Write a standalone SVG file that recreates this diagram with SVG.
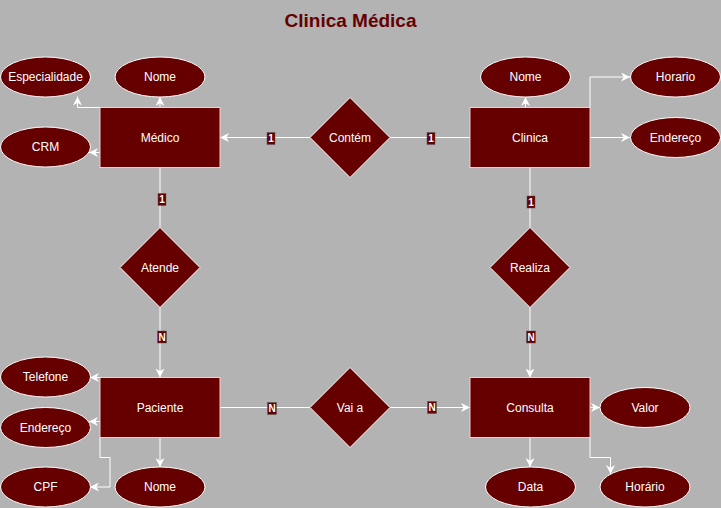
<svg xmlns="http://www.w3.org/2000/svg" width="721" height="508" viewBox="0 0 721 508">
<defs>
<marker id="arr" viewBox="0 0 10 10" refX="10" refY="5" markerWidth="9" markerHeight="9" markerUnits="userSpaceOnUse" orient="auto">
<path d="M0,0 L10,5 L0,10 L3,5 z" fill="#FFFFFF"/>
</marker>
</defs>
<style>
.ent{fill:#660000;stroke:#F8CECC;stroke-width:1}
.att{fill:#660000;stroke:#FFFFFF;stroke-width:1}
.rel{fill:#660000;stroke:#FFFFFF;stroke-width:1}
.t{font-family:"Liberation Sans",Arial,sans-serif;font-size:12px;fill:#FFFFFF;text-anchor:middle;dominant-baseline:central}
.e{fill:none;stroke:#FFFFFF;stroke-width:1}
.ea{fill:none;stroke:#FFFFFF;stroke-width:1;marker-end:url(#arr)}
.lb{fill:#660000;stroke:#555555;stroke-width:0.5}
.lt{font-family:"Liberation Sans",Arial,sans-serif;font-size:10px;font-weight:bold;fill:#FFFFFF;text-anchor:middle;dominant-baseline:central}
</style>
<rect x="0" y="0" width="721" height="508" fill="#B3B3B3"/>
<text x="350.5" y="20" font-family="'Liberation Sans',Arial,sans-serif" font-size="19" font-weight="bold" fill="#660000" text-anchor="middle" dominant-baseline="central">Clinica Médica</text>

<g id="connectors">
<path class="ea" d="M310,137.5 L220,137.5"/>
<path class="e" d="M390,137.5 L470,137.5"/>
<path class="e" d="M160,167.5 L160,227.5"/>
<path class="ea" d="M160,307.5 L160,377.5"/>
<path class="e" d="M530,167.5 L530,227.5"/>
<path class="ea" d="M530,307.5 L530,377.5"/>
<path class="e" d="M220,407.5 L310,407.5"/>
<path class="ea" d="M390,407.5 L470,407.5"/>
<path class="ea" d="M100,107.5 L77.5,107.5 L77.5,96.5"/>
<path class="ea" d="M160,107.5 L160,97"/>
<path class="ea" d="M100,152.5 L89,152.5"/>
<path class="ea" d="M525.5,107.5 L525.5,97"/>
<path class="ea" d="M590,107.5 L590,77 L630,77"/>
<path class="ea" d="M590,137.5 L630,137.5"/>
<path class="ea" d="M100,377.5 L90,377.5"/>
<path class="ea" d="M100,421.5 L89,421.5"/>
<path class="ea" d="M100,437.5 L100,457.5 L110,457.5 L110,487 L90,487"/>
<path class="ea" d="M160,437.5 L160,467"/>
<path class="ea" d="M590,407.5 L600,407.5"/>
<path class="ea" d="M530,437.5 L530,467"/>
<path class="ea" d="M590,437.5 L590,457.5 L610.5,457.5 L610.5,474"/>
<g id="labels">
<rect class="lb" x="267" y="132.5" width="8" height="12"/><text class="lt" x="271" y="138.5">1</text>
<rect class="lb" x="427" y="132.5" width="8" height="12"/><text class="lt" x="431" y="138.5">1</text>
<rect class="lb" x="158" y="193.5" width="8" height="12"/><text class="lt" x="162" y="199.5">1</text>
<rect class="lb" x="157.5" y="331" width="9" height="12"/><text class="lt" x="162" y="337">N</text>
<rect class="lb" x="527" y="196" width="8" height="12"/><text class="lt" x="531" y="202">1</text>
<rect class="lb" x="526.5" y="331" width="9" height="12"/><text class="lt" x="531" y="337">N</text>
<rect class="lb" x="267.5" y="402.5" width="9" height="12"/><text class="lt" x="272" y="408.5">N</text>
<rect class="lb" x="427.5" y="401.5" width="9" height="12"/><text class="lt" x="432" y="407.5">N</text>
</g>
</g>

<g id="medico"><rect class="ent" x="100" y="107.5" width="120" height="60"/><text class="t" x="160" y="137.5">Médico</text></g>
<g id="clinica"><rect class="ent" x="470" y="107.5" width="120" height="60"/><text class="t" x="530" y="137.5">Clinica</text></g>
<g id="paciente"><rect class="ent" x="100" y="377.5" width="120" height="60"/><text class="t" x="160" y="407.5">Paciente</text></g>
<g id="consulta"><rect class="ent" x="470" y="377.5" width="120" height="60"/><text class="t" x="530" y="407.5">Consulta</text></g>

<g id="contem"><path class="rel" d="M350,97.5 L390,137.5 L350,177.5 L310,137.5 Z"/><text class="t" x="350" y="137.5">Contém</text></g>
<g id="atende"><path class="rel" d="M160,227.5 L200,267.5 L160,307.5 L120,267.5 Z"/><text class="t" x="160" y="267.5">Atende</text></g>
<g id="realiza"><path class="rel" d="M530,227.5 L570,267.5 L530,307.5 L490,267.5 Z"/><text class="t" x="530" y="267.5">Realiza</text></g>
<g id="vaia"><path class="rel" d="M350,367.5 L390,407.5 L350,447.5 L310,407.5 Z"/><text class="t" x="350" y="407.5">Vai a</text></g>

<g id="especialidade"><ellipse class="att" cx="45.5" cy="77" rx="45" ry="20"/><text class="t" x="45.5" y="77">Especialidade</text></g>
<g id="nome-medico"><ellipse class="att" cx="160" cy="77" rx="45" ry="20"/><text class="t" x="160" y="77">Nome</text></g>
<g id="crm"><ellipse class="att" cx="45.5" cy="147" rx="45" ry="20"/><text class="t" x="45.5" y="147">CRM</text></g>
<g id="nome-clinica"><ellipse class="att" cx="525.5" cy="77" rx="45" ry="20"/><text class="t" x="525.5" y="77">Nome</text></g>
<g id="horario-clinica"><ellipse class="att" cx="675.5" cy="77" rx="45" ry="20"/><text class="t" x="675.5" y="77">Horario</text></g>
<g id="endereco-clinica"><ellipse class="att" cx="675.5" cy="137.5" rx="45" ry="20"/><text class="t" x="675.5" y="137.5">Endereço</text></g>
<g id="telefone"><ellipse class="att" cx="45.5" cy="377" rx="45" ry="20"/><text class="t" x="45.5" y="377">Telefone</text></g>
<g id="endereco-paciente"><ellipse class="att" cx="45.5" cy="427.5" rx="45" ry="20"/><text class="t" x="45.5" y="427.5">Endereço</text></g>
<g id="cpf"><ellipse class="att" cx="45.5" cy="487" rx="45" ry="20"/><text class="t" x="45.5" y="487">CPF</text></g>
<g id="nome-paciente"><ellipse class="att" cx="160" cy="487" rx="45" ry="20"/><text class="t" x="160" y="487">Nome</text></g>
<g id="valor"><ellipse class="att" cx="645" cy="407.5" rx="45" ry="20"/><text class="t" x="645" y="407.5">Valor</text></g>
<g id="data"><ellipse class="att" cx="530.5" cy="487" rx="45" ry="20"/><text class="t" x="530.5" y="487">Data</text></g>
<g id="horario-consulta"><ellipse class="att" cx="645" cy="487" rx="45" ry="20"/><text class="t" x="645" y="487">Horário</text></g>
</svg>
